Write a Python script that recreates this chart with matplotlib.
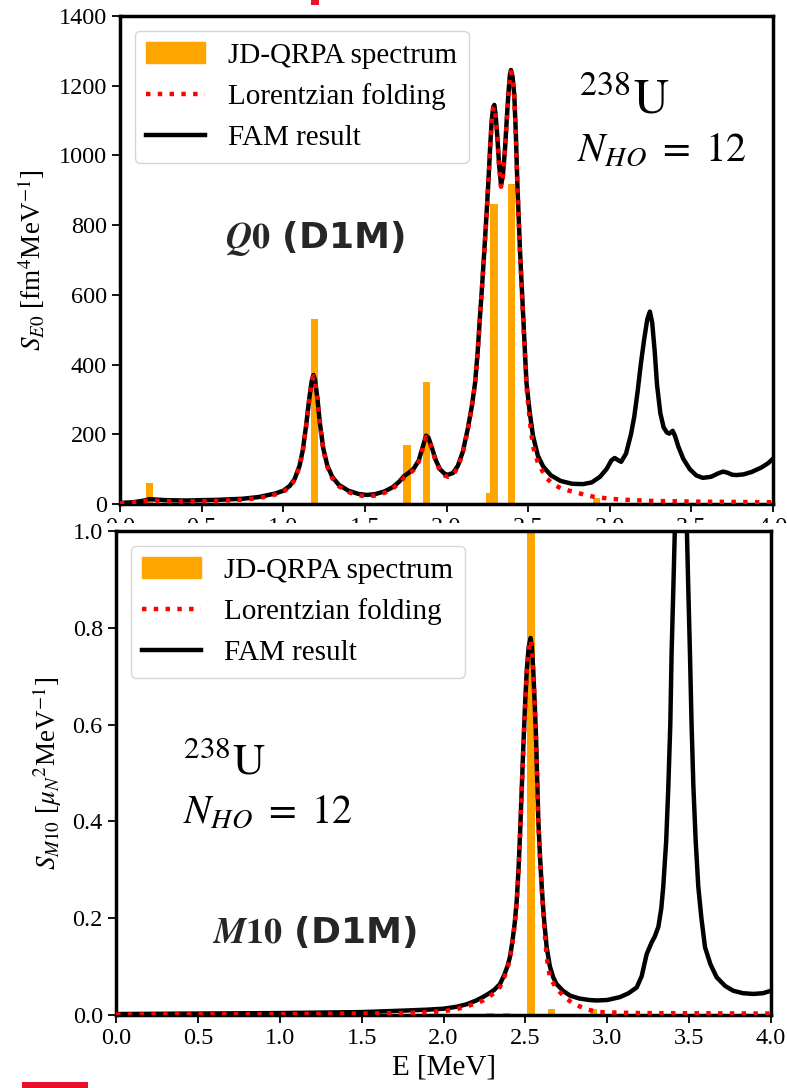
import matplotlib
matplotlib.use("Agg")
import matplotlib.pyplot as plt
from matplotlib.patches import Rectangle, Patch
from matplotlib.lines import Line2D

plt.rcParams['font.family'] = ['Liberation Serif', 'DejaVu Serif']
plt.rcParams['mathtext.fontset'] = 'stix'

# ---- E0 panel (top) ----
e0_bar_e = [0.18, 1.19, 1.758, 1.879, 2.265, 2.29, 2.40, 2.92]
e0_bar_h = [60, 532, 169, 351, 32, 860, 918, 18]

e0_fam_e = [0.00, 0.08, 0.15, 0.18, 0.21, 0.28, 0.40, 0.60, 0.75, 0.85, 0.95, 1.00,
            1.04, 1.07, 1.10, 1.12, 1.14, 1.16, 1.175, 1.185, 1.195, 1.21, 1.225,
            1.245, 1.27, 1.30, 1.34, 1.40, 1.46, 1.51, 1.56, 1.62, 1.67, 1.71, 1.74,
            1.77, 1.80, 1.83, 1.855, 1.875, 1.89, 1.91, 1.935, 1.96, 1.99, 2.01, 2.04,
            2.07, 2.10, 2.13, 2.155, 2.175, 2.19, 2.205, 2.22, 2.232, 2.245, 2.256,
            2.268, 2.277, 2.286, 2.293, 2.30, 2.31, 2.322, 2.334, 2.345, 2.358, 2.37,
            2.379, 2.388, 2.395, 2.405, 2.415, 2.425, 2.434, 2.45, 2.47, 2.49, 2.51,
            2.53, 2.56, 2.593, 2.64, 2.70, 2.77, 2.836, 2.89, 2.94, 2.98, 3.01, 3.03,
            3.05, 3.07, 3.10, 3.13, 3.15, 3.17, 3.19, 3.21, 3.23, 3.246, 3.26, 3.275,
            3.29, 3.31, 3.33, 3.35, 3.365, 3.385, 3.40, 3.42, 3.45, 3.49, 3.53, 3.57,
            3.62, 3.665, 3.694, 3.72, 3.75, 3.777, 3.82, 3.87, 3.93, 3.97, 4.00]
e0_fam_s = [3, 5, 10, 14, 13, 11, 10, 12, 15, 20, 30, 38,
            52, 72, 110, 155, 225, 305, 355, 370, 355, 300, 230,
            160, 110, 78, 55, 38, 29, 26, 28, 36, 48, 64, 80,
            90, 102, 125, 165, 196, 190, 162, 125, 100, 86, 84, 89,
            110, 150, 215, 280, 347, 430, 537, 640, 729, 830, 920,
            1030, 1100, 1138, 1145, 1120, 1063, 975, 915, 940, 1016, 1110,
            1175, 1230, 1245, 1225, 1175, 1060, 920, 729, 537, 347, 262,
            195, 138, 107, 82, 66, 58, 57, 62, 78, 100, 125, 132,
            126, 121, 145, 200, 250, 320, 400, 470, 530, 552, 520, 440,
            340, 260, 220, 205, 202, 210, 195, 165, 130, 100, 82, 75,
            78, 88, 93, 90, 84, 83, 85, 92, 105, 117, 130]

e0_lor_e = [0.00, 0.08, 0.15, 0.18, 0.21, 0.28, 0.40, 0.60, 0.75, 0.85, 0.95, 1.00,
            1.04, 1.07, 1.10, 1.12, 1.14, 1.16, 1.175, 1.185, 1.195, 1.21, 1.225,
            1.245, 1.27, 1.30, 1.34, 1.40, 1.46, 1.51, 1.56, 1.62, 1.67, 1.71, 1.74,
            1.77, 1.80, 1.83, 1.855, 1.875, 1.89, 1.91, 1.935, 1.96, 1.99, 2.01, 2.04,
            2.07, 2.10, 2.13, 2.155, 2.175, 2.19, 2.205, 2.22, 2.232, 2.245, 2.256,
            2.268, 2.277, 2.286, 2.293, 2.30, 2.31, 2.322, 2.334, 2.345, 2.358, 2.37,
            2.379, 2.388, 2.395, 2.405, 2.415, 2.425, 2.434, 2.45, 2.47, 2.49, 2.51,
            2.53, 2.56, 2.61, 2.654, 2.70, 2.76, 2.818, 2.90, 3.00, 3.10, 3.25, 3.50,
            3.75, 4.00]
e0_lor_s = [2, 4, 8, 11, 10, 8, 7, 9, 12, 17, 27, 35,
            49, 69, 107, 152, 222, 302, 352, 366, 352, 297, 226,
            156, 106, 74, 51, 34, 25, 22, 24, 32, 44, 60, 76,
            86, 98, 121, 161, 192, 186, 158, 121, 96, 81, 78, 84,
            105, 146, 211, 277, 344, 427, 534, 637, 726, 827, 917,
            1027, 1097, 1134, 1140, 1116, 1060, 971, 910, 935, 1012, 1106,
            1170, 1226, 1240, 1220, 1170, 1055, 915, 724, 525, 335, 240,
            165, 118, 75, 57, 45, 37, 30, 21, 15, 12, 9, 7,
            6, 5]

# ---- M10 panel (bottom) ----
m1_bar_e = [2.284, 2.386, 2.535, 2.66, 2.915]
m1_bar_h = [0.004, 0.005, 1.2, 0.012, 0.013]

m1_fam_e = [0.00, 0.50, 1.00, 1.50, 1.75, 1.90, 2.00, 2.08, 2.14, 2.20, 2.24, 2.28,
            2.31, 2.345, 2.37, 2.39, 2.406, 2.42, 2.435, 2.447, 2.458, 2.467, 2.477,
            2.487, 2.498, 2.508, 2.52, 2.532, 2.54, 2.548, 2.557, 2.565, 2.572, 2.579,
            2.589, 2.60, 2.612, 2.63, 2.65, 2.67, 2.69, 2.73, 2.773, 2.83, 2.89, 2.935,
            3.00, 3.078, 3.13, 3.18, 3.21, 3.241, 3.271, 3.29, 3.312, 3.33, 3.342,
            3.36, 3.373, 3.385, 3.393, 3.405, 3.414, 3.43, 3.45, 3.47, 3.485, 3.495,
            3.505, 3.515, 3.526, 3.54, 3.556, 3.575, 3.597, 3.63, 3.668, 3.72, 3.77,
            3.83, 3.892, 3.95, 4.00]
m1_fam_s = [0.002, 0.003, 0.004, 0.006, 0.009, 0.011, 0.013, 0.017, 0.022, 0.030, 0.037, 0.045,
            0.052, 0.064, 0.082, 0.100, 0.12, 0.15, 0.19, 0.235, 0.30, 0.37, 0.46,
            0.55, 0.64, 0.71, 0.76, 0.779, 0.76, 0.713, 0.645, 0.575, 0.49, 0.403,
            0.33, 0.265, 0.205, 0.14, 0.10, 0.078, 0.064, 0.05, 0.040, 0.034, 0.031, 0.030,
            0.031, 0.037, 0.045, 0.057, 0.08, 0.126, 0.150, 0.162, 0.182, 0.22, 0.265,
            0.36, 0.472, 0.60, 0.748, 0.90, 1.02, 1.35, 1.7, 1.35, 1.02, 0.88,
            0.748, 0.60, 0.472, 0.36, 0.265, 0.20, 0.140, 0.105, 0.078, 0.060, 0.050,
            0.045, 0.0435, 0.045, 0.050]

m1_lor_e = [0.00, 0.50, 1.00, 1.50, 1.75, 1.90, 2.00, 2.08, 2.14, 2.20, 2.243, 2.28,
            2.31, 2.345, 2.37, 2.39, 2.406, 2.42, 2.435, 2.447, 2.458, 2.467, 2.477,
            2.487, 2.498, 2.508, 2.52, 2.532, 2.54, 2.548, 2.557, 2.565, 2.572, 2.579,
            2.589, 2.60, 2.612, 2.63, 2.65, 2.68, 2.711, 2.75, 2.783, 2.83, 2.874,
            2.92, 2.956, 3.05, 3.20, 3.60, 4.00]
m1_lor_s = [0.001, 0.0015, 0.002, 0.003, 0.004, 0.0055, 0.008, 0.012, 0.018, 0.024, 0.030, 0.038,
            0.046, 0.058, 0.077, 0.096, 0.116, 0.146, 0.186, 0.23, 0.295, 0.365, 0.455,
            0.545, 0.635, 0.705, 0.755, 0.775, 0.755, 0.708, 0.64, 0.57, 0.485, 0.398,
            0.325, 0.26, 0.195, 0.12, 0.078, 0.060, 0.047, 0.034, 0.026, 0.018, 0.012,
            0.008, 0.006, 0.005, 0.004, 0.0035, 0.003]

legend_labels = ["JD-QRPA spectrum", "Lorentzian folding", "FAM result"]
e_ticks = [0, 0.5, 1, 1.5, 2, 2.5, 3, 3.5, 4]
e_ticklabels = ["0.0", "0.5", "1.0", "1.5", "2.0", "2.5", "3.0", "3.5", "4.0"]

fig = plt.figure(figsize=(7.87, 10.88), dpi=100)
ax1 = fig.add_axes([120 / 787, 1 - 504 / 1088, 653 / 787, 488 / 1088])
ax2 = fig.add_axes([116 / 787, 1 - 1015 / 1088, 655 / 787, 484 / 1088], zorder=2)


def draw_panel(ax, bar_e, bar_h, fam_e, fam_s, lor_e, lor_s):
    ax.bar(bar_e, bar_h, width=0.045, color="orange", zorder=1)
    ax.plot(fam_e, fam_s, color="black", lw=3.2, zorder=2, solid_joinstyle="round")
    ax.plot(lor_e, lor_s, color="red", lw=3.2, ls=":", zorder=3)
    ax.set_xlim(0, 4)
    ax.set_xticks(e_ticks)
    ax.set_xticklabels(e_ticklabels)
    for s in ax.spines.values():
        s.set_linewidth(2.5)
    ax.tick_params(labelsize=17.5, width=1.3, length=6)
    handles = [Patch(color="orange"),
               Line2D([], [], color="red", lw=3.2, ls=":"),
               Line2D([], [], color="black", lw=3.2)]
    ax.legend(handles, legend_labels, loc="upper left", fontsize=21)


draw_panel(ax1, e0_bar_e, e0_bar_h, e0_fam_e, e0_fam_s, e0_lor_e, e0_lor_s)
ax1.set_ylim(0, 1400)
ax1.set_yticks(range(0, 1401, 200))
ax1.set_ylabel(r"$S_{E0}$ [fm$^4$MeV$^{-1}$]", fontsize=19.5, labelpad=8)

draw_panel(ax2, m1_bar_e, m1_bar_h, m1_fam_e, m1_fam_s, m1_lor_e, m1_lor_s)
ax2.set_ylim(0, 1.0)
ax2.set_yticks([0, 0.2, 0.4, 0.6, 0.8, 1.0])
ax2.set_yticklabels(["0.0", "0.2", "0.4", "0.6", "0.8", "1.0"])
ax2.set_ylabel(r"$S_{M10}$ [$\mu_N{}^2$MeV$^{-1}$]", fontsize=19.5, labelpad=6)
ax2.set_xlabel("E [MeV]", fontsize=21, labelpad=4)

# nucleus annotations
ax1.text(0.703, 0.801, r"$^{238}\mathrm{U}$", transform=ax1.transAxes, fontsize=35, va="baseline")
ax1.text(0.700, 0.703, r"$N_{HO}\ =\ 12$", transform=ax1.transAxes, fontsize=29, va="baseline")
ax2.text(0.102, 0.500, r"$^{238}\mathrm{U}$", transform=ax2.transAxes, fontsize=32, va="baseline")
ax2.text(0.102, 0.397, r"$N_{HO}\ =\ 12$", transform=ax2.transAxes, fontsize=29, va="baseline")

ax1.text(0.161, 0.525, r"$\mathbfit{Q}\mathbf{0}$ (D1M)", transform=ax1.transAxes,
         fontsize=26, fontweight="bold", family="DejaVu Sans", math_fontfamily="stix",
         color="#262626", va="baseline")
ax2.text(0.147, 0.149, r"$\mathbfit{M}\mathbf{10}$ (D1M)", transform=ax2.transAxes,
         fontsize=26, fontweight="bold", family="DejaVu Sans", math_fontfamily="stix",
         color="#262626", va="baseline")

# lower image covers the top panel's tick labels
fig.add_artist(Rectangle((0, 0), 1, 1 - 523 / 1088, transform=fig.transFigure,
                         facecolor="white", edgecolor="none", zorder=1))
# cropped red fragments from the slide
fig.add_artist(Rectangle((311 / 787, 1 - 5 / 1088), 8 / 787, 5 / 1088, transform=fig.transFigure,
                         facecolor="#e8102a", edgecolor="none", zorder=3))
fig.add_artist(Rectangle((22 / 787, 0), 66 / 787, 6 / 1088, transform=fig.transFigure,
                         facecolor="#e8102a", edgecolor="none", zorder=3))

fig.savefig("out.png", dpi=100)
